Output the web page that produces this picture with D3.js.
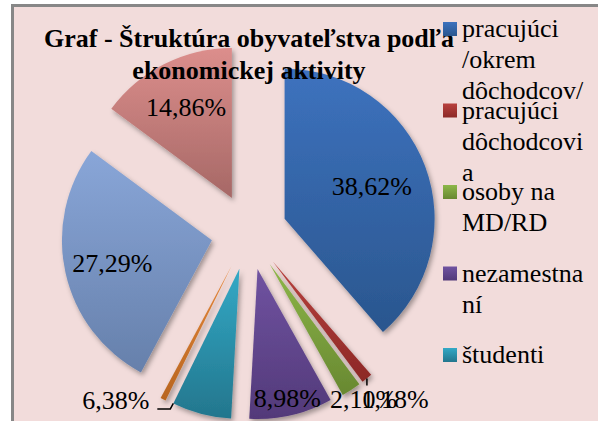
<!DOCTYPE html>
<html>
<head>
<meta charset="utf-8">
<script src="https://cdn.jsdelivr.net/npm/d3@7"></script>
<style>
  html, body { margin: 0; padding: 0; background: #fff; overflow: hidden; }
  svg text { font-family: "Liberation Serif", "DejaVu Serif", serif; }
</style>
</head>
<body>
<svg id="chart" width="598" height="421"></svg>
<script>
// data
const categories = ["pracujúci /okrem dôchodcov/", "pracujúci dôchodcovia", "osoby na MD/RD",
    "nezamestnaní", "študenti", "ostatní", "deti", "dôchodcovia"]
const values = [38.62, 1.18, 2.10, 8.98, 6.38, 0.59, 27.29, 14.86]
const legendLines = [
    ["pracujúci", "/okrem", "dôchodcov/"],
    ["pracujúci", "dôchodcovi", "a"],
    ["osoby na", "MD/RD"],
    ["nezamestna", "ní"],
    ["študenti"],
    ["ostatní"],
    ["deti"],
    ["dôchodcovia"]
]
const titleLines = ["Graf - Štruktúra obyvateľstva podľa", "ekonomickej aktivity"]

const colorsTop = ["#3d72be", "#b9413e", "#8db749", "#7053a1", "#33a9c6", "#e5873a", "#89a6d8", "#dc8e8c"]
const colorsBottom = ["#2a568e", "#8c2826", "#688831", "#523979", "#23768d", "#b8651f", "#6680ab", "#a66866"]

const width = 598, height = 421
const cx = 249, cy = 232, radius = 150, explode = 38

const svg = d3.select("#chart")
const defs = svg.append("defs")

const shadow = defs.append("filter").attr("id", "shadow")
    .attr("x", "-20%").attr("y", "-20%").attr("width", "140%").attr("height", "140%")
shadow.append("feDropShadow")
    .attr("dx", 2).attr("dy", 3).attr("stdDeviation", 2.5)
    .attr("flood-color", "#000").attr("flood-opacity", 0.35)

categories.forEach((c, i) => {
    const g = defs.append("linearGradient").attr("id", "grad" + i)
        .attr("x1", 0).attr("y1", 0).attr("x2", 0).attr("y2", 1)
    g.append("stop").attr("offset", "0%").attr("stop-color", colorsTop[i])
    g.append("stop").attr("offset", "100%").attr("stop-color", colorsBottom[i])
})

// chart area with border
svg.append("rect")
    .attr("x", 12.5).attr("y", 5.5)
    .attr("width", width + 20).attr("height", height + 20)
    .attr("fill", "#f2dcdb")
    .attr("stroke", "#878787").attr("stroke-width", 3)

const pie = d3.pie().sort(null).value(d => d)
const arcs = pie(values)
const arc = d3.arc().innerRadius(0).outerRadius(radius)

const dirOf = a => [Math.sin(a), -Math.cos(a)]
const midOf = d => (d.startAngle + d.endAngle) / 2

const slices = svg.append("g").attr("transform", `translate(${cx},${cy})`)

slices.selectAll("path")
    .data(arcs)
    .enter().append("path")
    .attr("d", arc)
    .attr("fill", (d, i) => `url(#grad${i})`)
    .attr("filter", "url(#shadow)")
    .attr("transform", d => {
        const [dx, dy] = dirOf(midOf(d))
        return `translate(${dx * explode},${dy * explode})`
    })

// data labels (how far along the slice radius; Excel pushes the low ones up to the bottom edge)
const labelK = [0.62, 1.3, 1.15, 0.88, null, null, 0.68, 0.68]
const fmt = v => d3.format(".2f")(v).replace(".", ",") + "%"
const maxLabelY = 399

const labels = svg.append("g").attr("font-size", 26).attr("fill", "#000")

arcs.forEach((d, i) => {
    const [dx, dy] = dirOf(midOf(d))
    const ax = cx + dx * explode, ay = cy + dy * explode
    if (labelK[i] !== null) {
        let x = ax + dx * labelK[i] * radius
        let y = Math.min(ay + dy * labelK[i] * radius, maxLabelY)
        labels.append("text")
            .attr("x", x).attr("y", y + 9)
            .attr("text-anchor", "middle")
            .text(fmt(values[i]))
        if (labelK[i] > 1.2) {
            const tx = ax + dx * radius, ty = ay + dy * radius
            labels.append("line")
                .attr("x1", tx).attr("y1", ty).attr("x2", tx).attr("y2", ty + 7)
                .attr("stroke", "#000").attr("stroke-width", 1.5)
        }
    }
})

// študenti label sits left of the slice with a leader line
{
    const i = 4, d = arcs[i]
    const [dx, dy] = dirOf(midOf(d))
    const ax = cx + dx * explode, ay = cy + dy * explode
    const [ex, ey] = dirOf(d.endAngle)
    const px = ax + ex * radius, py = ay + ey * radius
    labels.append("path")
        .attr("d", `M${px - 16},${py + 5.5}H${px - 3}L${px},${py}`)
        .attr("fill", "none").attr("stroke", "#000").attr("stroke-width", 1.5)
    labels.append("text")
        .attr("x", px - 24).attr("y", py + 5.5)
        .attr("text-anchor", "end")
        .text(fmt(values[i]))
}

// title
svg.append("g").selectAll("text")
    .data(titleLines)
    .enter().append("text")
    .attr("x", 249).attr("y", (d, i) => 47 + i * 32)
    .attr("text-anchor", "middle")
    .attr("font-size", 26).attr("font-weight", "bold")
    .text(d => d)

// legend (entries below the visible area are left out)
const legend = svg.append("g").attr("font-size", 26)
const entryStep = 81.5, lineStep = 31

legendLines.forEach((lines, i) => {
    const y0 = 37 + i * entryStep
    if (y0 > height) return
    legend.append("rect")
        .attr("x", 443).attr("y", y0 - 15)
        .attr("width", 14).attr("height", 14)
        .attr("fill", `url(#grad${i})`)
    lines.forEach((t, j) => {
        legend.append("text")
            .attr("x", 462).attr("y", y0 + j * lineStep)
            .text(t)
    })
})
</script>
</body>
</html>
